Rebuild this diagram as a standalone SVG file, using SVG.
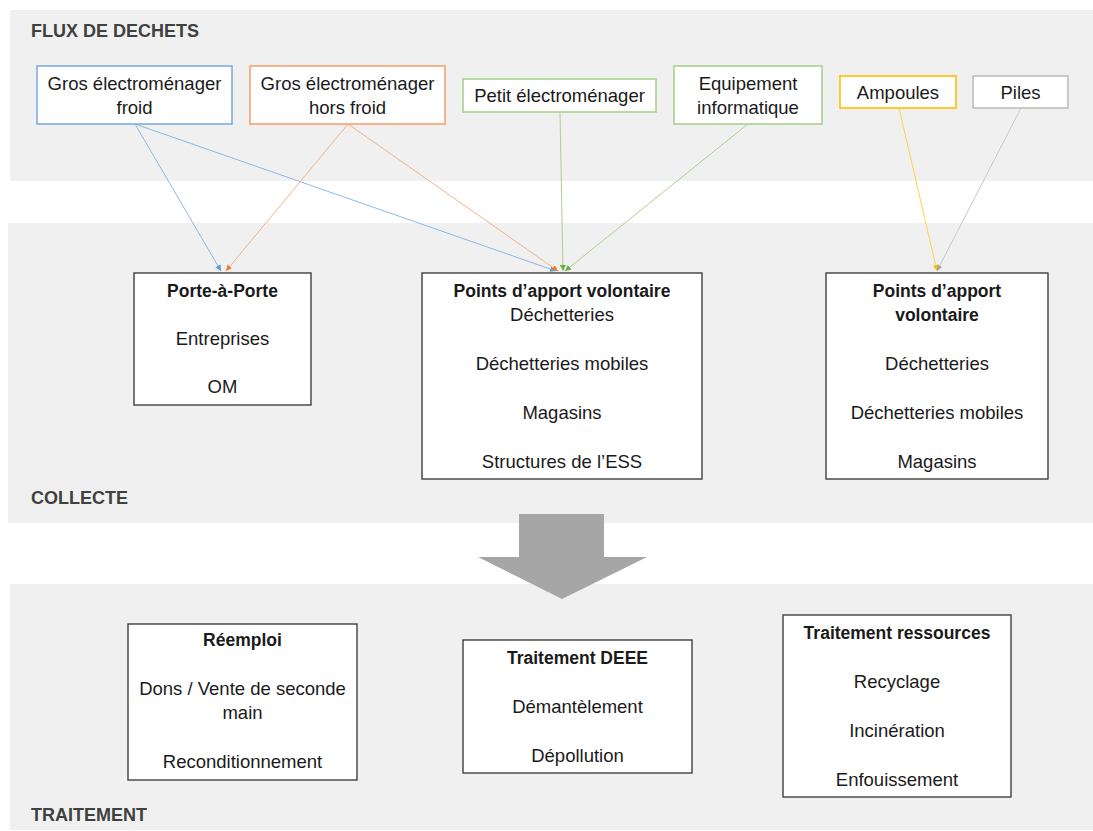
<svg xmlns="http://www.w3.org/2000/svg" width="1093" height="831" viewBox="0 0 1093 831">
<defs>
<style>
.band{fill:#f0f0f0}
.sec{font-family:"Liberation Sans",Arial,sans-serif;font-weight:bold;font-size:18px;fill:#404040}
.t{font-family:"Liberation Sans",Arial,sans-serif;font-size:18.5px;fill:#1a1a1a;text-anchor:middle}
.b{font-weight:bold;font-size:17.5px}
.box{fill:#ffffff;stroke:#3f3f3f;stroke-width:1.4}
.src{fill:#ffffff;stroke-width:1.6}
.c{fill:none;stroke-width:1}
</style>
<marker id="mBlue" viewBox="0 0 8 8" refX="8" refY="4" markerWidth="6" markerHeight="6" markerUnits="userSpaceOnUse" orient="auto"><path d="M0,0 L8,4 L0,8 z" fill="#5B9BD5"/></marker>
<marker id="mOrange" viewBox="0 0 8 8" refX="8" refY="4" markerWidth="6" markerHeight="6" markerUnits="userSpaceOnUse" orient="auto"><path d="M0,0 L8,4 L0,8 z" fill="#ED7D31"/></marker>
<marker id="mGreen" viewBox="0 0 8 8" refX="8" refY="4" markerWidth="6" markerHeight="6" markerUnits="userSpaceOnUse" orient="auto"><path d="M0,0 L8,4 L0,8 z" fill="#70AD47"/></marker>
<marker id="mYellow" viewBox="0 0 8 8" refX="8" refY="4" markerWidth="6" markerHeight="6" markerUnits="userSpaceOnUse" orient="auto"><path d="M0,0 L8,4 L0,8 z" fill="#FFC000"/></marker>
<marker id="mGray" viewBox="0 0 8 8" refX="8" refY="4" markerWidth="6" markerHeight="6" markerUnits="userSpaceOnUse" orient="auto"><path d="M0,0 L8,4 L0,8 z" fill="#A6A6A6"/></marker>
</defs>
<rect width="1093" height="831" fill="#ffffff"/>

<g id="bands">
<rect class="band" x="10" y="10" width="1083" height="171"/>
<rect class="band" x="8" y="223" width="1085" height="300"/>
<rect class="band" x="10" y="584" width="1083" height="246"/>
<text class="sec" x="31" y="37">FLUX DE DECHETS</text>
<text class="sec" x="31" y="504">COLLECTE</text>
<text class="sec" x="31" y="821">TRAITEMENT</text>
</g>

<g id="connectors">
<line class="c" x1="135" y1="124" x2="221" y2="271" stroke="#8DB8E3" marker-end="url(#mBlue)"/>
<line class="c" x1="348" y1="124" x2="226" y2="271" stroke="#F4B183" marker-end="url(#mOrange)"/>
<line class="c" x1="135" y1="124" x2="556" y2="271" stroke="#8DB8E3" marker-end="url(#mBlue)"/>
<line class="c" x1="348" y1="124" x2="558" y2="271" stroke="#F4B183" marker-end="url(#mOrange)"/>
<line class="c" x1="560" y1="112" x2="563" y2="271" stroke="#A9D18E" marker-end="url(#mGreen)"/>
<line class="c" x1="748" y1="124" x2="565" y2="271" stroke="#A9D18E" marker-end="url(#mGreen)"/>
<line class="c" x1="899" y1="108" x2="937" y2="271" stroke="#FFD24D" marker-end="url(#mYellow)"/>
<line class="c" x1="1021" y1="108" x2="937" y2="271" stroke="#C8C8C8" marker-end="url(#mGray)"/>
</g>

<g id="n-gros-froid">
<rect class="src" x="37" y="66" width="195" height="58" stroke="#7EAEE0"/>
<text class="t" x="134.5" y="90">Gros électroménager</text>
<text class="t" x="134.5" y="114">froid</text>
</g>
<g id="n-gros-hors-froid">
<rect class="src" x="250" y="66" width="195" height="58" stroke="#F4A46C"/>
<text class="t" x="347.5" y="90">Gros électroménager</text>
<text class="t" x="347.5" y="114">hors froid</text>
</g>
<g id="n-petit">
<rect class="src" x="463" y="79" width="193" height="33" stroke="#A9D18E"/>
<text class="t" x="559.5" y="102">Petit électroménager</text>
</g>
<g id="n-equipement">
<rect class="src" x="674" y="66" width="148" height="58" stroke="#A9D18E"/>
<text class="t" x="748" y="90">Equipement</text>
<text class="t" x="748" y="114">informatique</text>
</g>
<g id="n-ampoules">
<rect class="src" x="840" y="76" width="116" height="32" stroke="#FFC000"/>
<text class="t" x="898" y="99">Ampoules</text>
</g>
<g id="n-piles">
<rect class="src" x="973" y="76" width="95" height="32" stroke="#BFBFBF"/>
<text class="t" x="1020.5" y="99">Piles</text>
</g>

<g id="n-porte">
<rect class="box" x="134" y="273" width="177" height="132"/>
<text class="t b" x="222.5" y="297">Porte-à-Porte</text>
<text class="t" x="222.5" y="345">Entreprises</text>
<text class="t" x="222.5" y="393">OM</text>
</g>
<g id="n-pav1">
<rect class="box" x="422" y="273" width="280" height="206"/>
<text class="t b" x="562" y="297">Points d’apport volontaire</text>
<text class="t" x="562" y="321">Déchetteries</text>
<text class="t" x="562" y="370">Déchetteries mobiles</text>
<text class="t" x="562" y="419">Magasins</text>
<text class="t" x="562" y="468">Structures de l’ESS</text>
</g>
<g id="n-pav2">
<rect class="box" x="826" y="273" width="222" height="206"/>
<text class="t b" x="937" y="297">Points d’apport</text>
<text class="t b" x="937" y="321">volontaire</text>
<text class="t" x="937" y="370">Déchetteries</text>
<text class="t" x="937" y="419">Déchetteries mobiles</text>
<text class="t" x="937" y="468">Magasins</text>
</g>

<g id="big-arrow">
<polygon points="519,514 604,514 604,557 647,557 562,599 478,557 519,557" fill="#A6A6A6"/>
</g>

<g id="n-reemploi">
<rect class="box" x="128" y="624" width="229" height="156"/>
<text class="t b" x="242.5" y="646">Réemploi</text>
<text class="t" x="242.5" y="695">Dons / Vente de seconde</text>
<text class="t" x="242.5" y="719">main</text>
<text class="t" x="242.5" y="768">Reconditionnement</text>
</g>
<g id="n-deee">
<rect class="box" x="463" y="640" width="229" height="133"/>
<text class="t b" x="577.5" y="664">Traitement DEEE</text>
<text class="t" x="577.5" y="713">Démantèlement</text>
<text class="t" x="577.5" y="762">Dépollution</text>
</g>
<g id="n-ressources">
<rect class="box" x="783" y="615" width="228" height="182"/>
<text class="t b" x="897" y="639">Traitement ressources</text>
<text class="t" x="897" y="688">Recyclage</text>
<text class="t" x="897" y="737">Incinération</text>
<text class="t" x="897" y="786">Enfouissement</text>
</g>
</svg>
